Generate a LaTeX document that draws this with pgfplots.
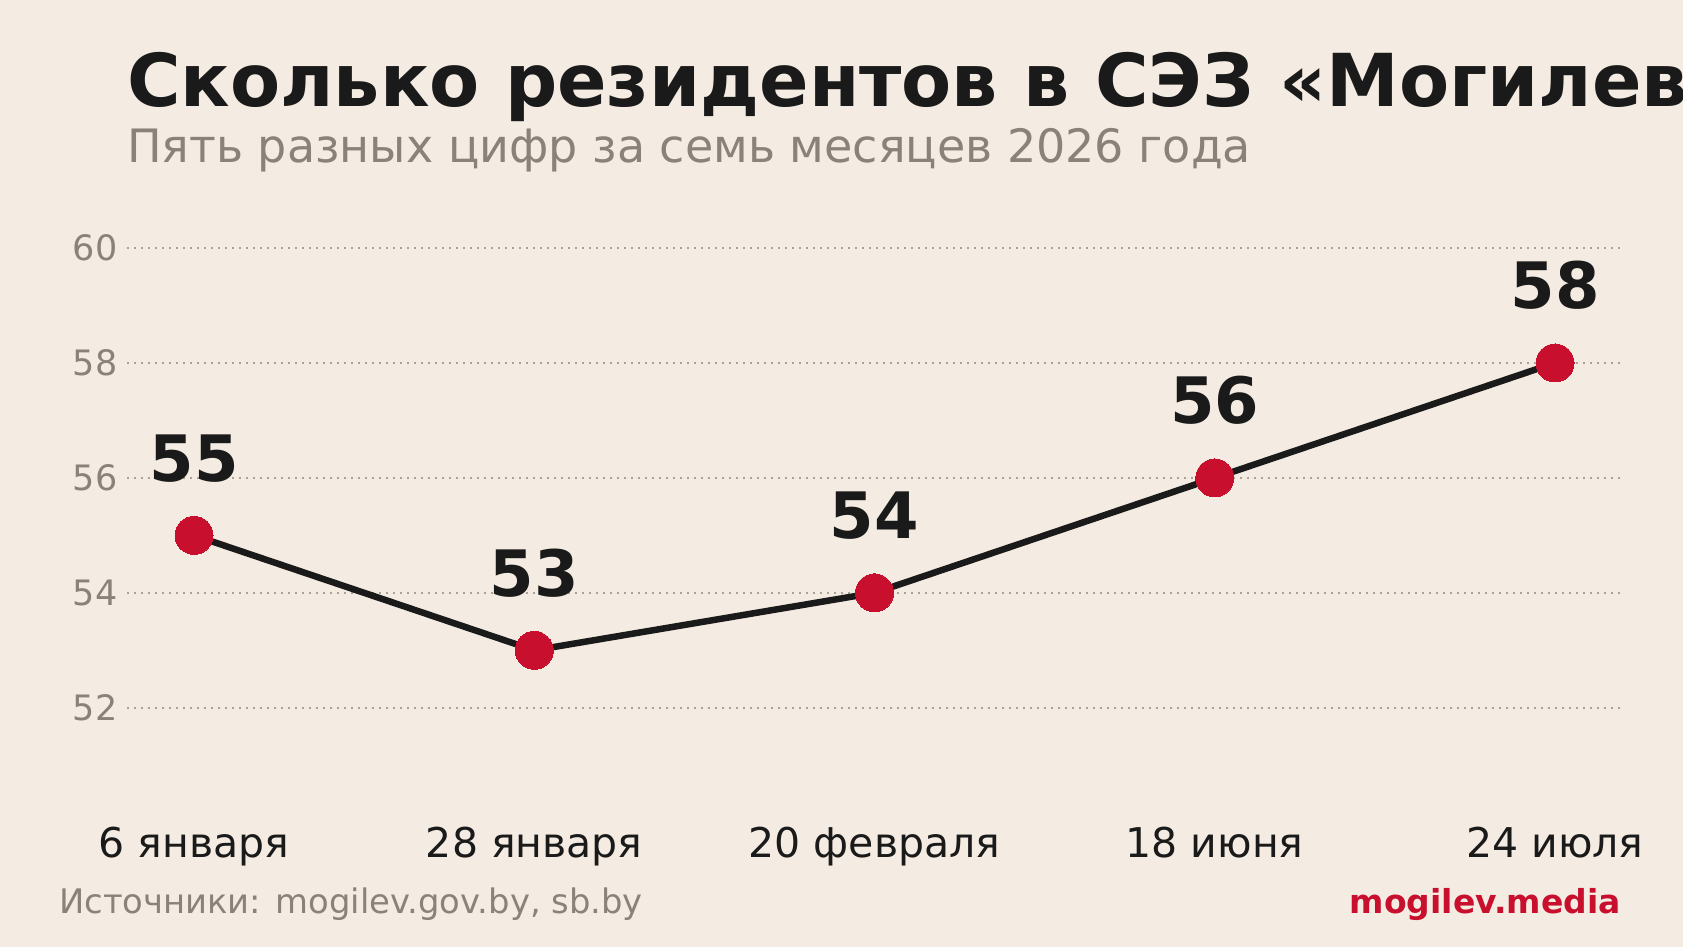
\documentclass[border=0pt]{standalone}
\usepackage{pgfplots}
\pgfplotsset{compat=1.18}
\usepackage{fontspec}
\setmainfont{DejaVu Sans}
\definecolor{bg}{HTML}{F4ECE2}
\definecolor{ink}{HTML}{1A1A1A}
\definecolor{greytxt}{HTML}{8A8279}
\definecolor{gridc}{HTML}{ABA296}
\definecolor{redc}{HTML}{C8102E}
\begin{document}
\begin{tikzpicture}[x=1pt,y=1pt]
\useasboundingbox (0,0) rectangle (1683,947);
\fill[bg] (0,0) rectangle (1683,947);
\node[anchor=base west, inner sep=0, text=ink] at (127,840) {\fontsize{73}{80}\selectfont\bfseries Сколько резидентов в СЭЗ «Могилев»};
\node[anchor=base west, inner sep=0, text=greytxt] at (127,784) {\fontsize{46}{50}\selectfont Пять разных цифр за семь месяцев 2026 года};
\node[anchor=base west, inner sep=0, text=greytxt] at (59,33) {\fontsize{33.8}{38}\selectfont Источники: mogilev.gov.by, sb.by};
\node[anchor=base east, inner sep=0, text=redc] at (1621,33) {\fontsize{33}{38}\selectfont\bfseries mogilev.media};
\begin{axis}[
  at={(127pt,153pt)}, anchor=south west,
  scale only axis, width=1494pt, height=546pt,
  xmin=-0.197, xmax=4.194, ymin=50.5, ymax=60,
  axis line style={draw=none},
  clip=false,
  xtick={0,1,2,3,4},
  xticklabels={6 января,28 января,20 февраля,18 июня,24 июля},
  ytick={52,54,56,58,60},
  ymajorgrids,
  grid style={gridc, line width=1.8pt, dash pattern=on 1.8pt off 5.2pt},
  major tick length=0pt,
  tick style={draw=none},
  /pgf/number format/assume math mode=true,
  xticklabel style={anchor=base, inner sep=0pt, yshift=-64pt, text=ink, font=\fontsize{41}{46}\selectfont},
  yticklabel style={anchor=east, inner sep=0pt, xshift=-9.5pt, text=greytxt, font=\fontsize{35}{40}\selectfont},
]
\addplot[ink, line width=6.5pt, mark=*, mark size=19pt, mark options={fill=redc, draw=redc, line width=0pt},
  nodes near coords, nodes near coords style={anchor=base, inner sep=0pt, yshift=54pt, text=ink, font=\fontsize{64}{68}\selectfont\bfseries}]
  coordinates {(0,55) (1,53) (2,54) (3,56) (4,58)};
\end{axis}
\end{tikzpicture}
\end{document}
